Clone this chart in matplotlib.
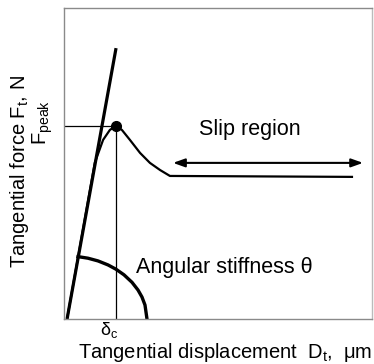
import matplotlib
matplotlib.use('Agg')
import matplotlib.pyplot as plt

plt.rcParams['font.family'] = ['Liberation Sans', 'DejaVu Sans']
plt.rcParams['mathtext.default'] = 'regular'

# schematic values (arbitrary units, axis 0..10)
stiff_x = [0.10, 1.69]
stiff_y = [0.0, 8.71]

delta_c = 1.69
f_peak = 6.21

curve_x = [0.10, 1.00, 1.27, 1.49, 1.69, 1.88, 2.14, 2.47, 2.79, 3.12, 3.44, 9.35]
curve_y = [0.00, 5.02, 5.76, 6.08, 6.21, 6.08, 5.76, 5.34, 5.02, 4.79, 4.60, 4.57]

arc_x = [0.455, 0.779, 1.104, 1.429, 1.688, 1.948, 2.208, 2.403, 2.532, 2.630, 2.695]
arc_y = [2.006, 1.955, 1.868, 1.739, 1.601, 1.421, 1.180, 0.932, 0.707, 0.450, 0.0]

slip_start = 3.54
slip_end = 9.71
slip_y = 5.02

fig = plt.figure(figsize=(3.74, 3.64), dpi=100)
ax = fig.add_axes([0.1711, 0.1236, 0.8235, 0.8544])
ax.set_xlim(0, 10)
ax.set_ylim(0, 10)
ax.set_xticks([])
ax.set_yticks([])
for s in ax.spines.values():
    s.set_color('#8a8a8a')
    s.set_linewidth(1.0)
ax.spines['right'].set_color('#bbbbbb')

# guide lines to the peak
ax.plot([0, delta_c], [f_peak, f_peak], color='black', lw=0.9)
ax.plot([delta_c, delta_c], [0, f_peak], color='black', lw=0.9)

ax.plot(stiff_x, stiff_y, color='black', lw=2.3, solid_capstyle='butt')
ax.plot(curve_x, curve_y, color='black', lw=1.6)
ax.plot(arc_x, arc_y, color='black', lw=2.4)
ax.plot([delta_c], [f_peak], 'o', color='black', ms=7)

ax.annotate('', xy=(slip_end, slip_y), xytext=(slip_start, slip_y),
            arrowprops=dict(arrowstyle='<|-|>,head_length=0.7,head_width=0.25',
                            color='black', lw=1.5, shrinkA=0, shrinkB=0))

ax.text(6.02, 6.1, 'Slip region', fontsize=15.5, ha='center', va='center')
ax.text(2.33, 1.66, 'Angular stiffness θ', fontsize=15.5, ha='left', va='center')

ax.text(1.17, -0.52, 'δ$_c$', fontsize=13, ha='left', va='baseline', clip_on=False)
ax.text(5.23, -1.24, 'Tangential displacement  D$_t$,  μm', fontsize=14.5,
        ha='center', va='baseline', clip_on=False)
ax.text(-1.27, 4.73, 'Tangential force F$_t$, N', fontsize=14.5, rotation=90,
        rotation_mode='anchor', ha='center', va='baseline', clip_on=False)
ax.text(-0.57, 6.32, 'F$_{peak}$', fontsize=14.5, rotation=90,
        rotation_mode='anchor', ha='center', va='baseline', clip_on=False)

fig.savefig('out.png', dpi=100)
